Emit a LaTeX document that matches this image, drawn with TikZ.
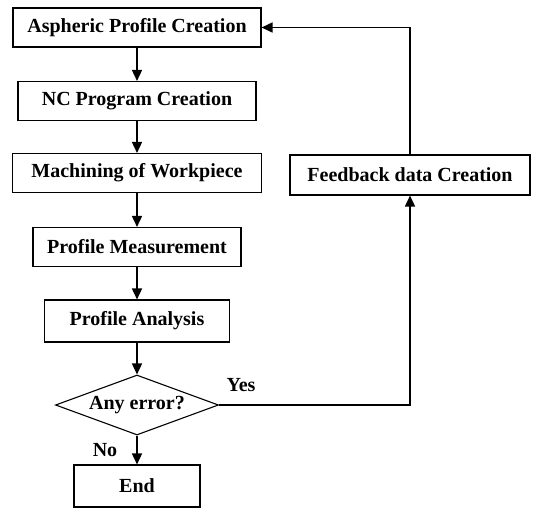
\documentclass[tikz,border=0pt]{standalone}
\usepackage{fontspec}
\setmainfont{Liberation Serif}
\usetikzlibrary{arrows.meta,shapes.geometric}
\begin{document}
\begin{tikzpicture}[x=1pt,y=1pt,
  box/.style={draw,line width=1.1pt,inner sep=0pt,minimum height=39pt,font=\fontsize{20}{24}\selectfont\bfseries},
  dia/.style={draw,diamond,line width=1.1pt,inner sep=0pt,aspect=2.7,minimum width=163pt,minimum height=60pt,font=\fontsize{20}{24}\selectfont\bfseries},
  flow/.style={line width=1.6pt,-{Triangle[length=11pt,width=10pt]}},
  lbl/.style={font=\fontsize{20}{24}\selectfont\bfseries}]
\useasboundingbox (0,0) rectangle (546,-508);
\node[box,minimum width=248pt] (a) at (137,-27.5) {Aspheric Profile Creation};
\node[box,minimum width=238pt] (b) at (137,-101) {NC Program Creation};
\node[box,minimum width=249pt] (c) at (137,-173) {Machining of Workpiece};
\node[box,minimum width=208pt] (d) at (137,-247) {Profile Measurement};
\node[box,minimum width=185pt,minimum height=42pt] (e) at (137,-321) {Profile Analysis};
\node[dia] (f) at (137,-405) {Any error?};
\node[box,minimum width=126pt,minimum height=42pt] (g) at (137,-486) {End};
\node[box,minimum width=240pt,minimum height=40pt] (h) at (410,-175) {Feedback data Creation};
\node[lbl] (yes) at (241,-385) {Yes};
\node[lbl] (no) at (105,-450) {No};
\draw[flow] (a) -- (b);
\draw[flow] (b) -- (c);
\draw[flow] (c) -- (d);
\draw[flow] (d) -- (e);
\draw[flow] (e) -- (f);
\draw[flow] (f) -- (g);
\draw[flow] (f.east) -| (h.south);
\draw[flow] (h.north) |- (a.east);
\end{tikzpicture}
\end{document}
